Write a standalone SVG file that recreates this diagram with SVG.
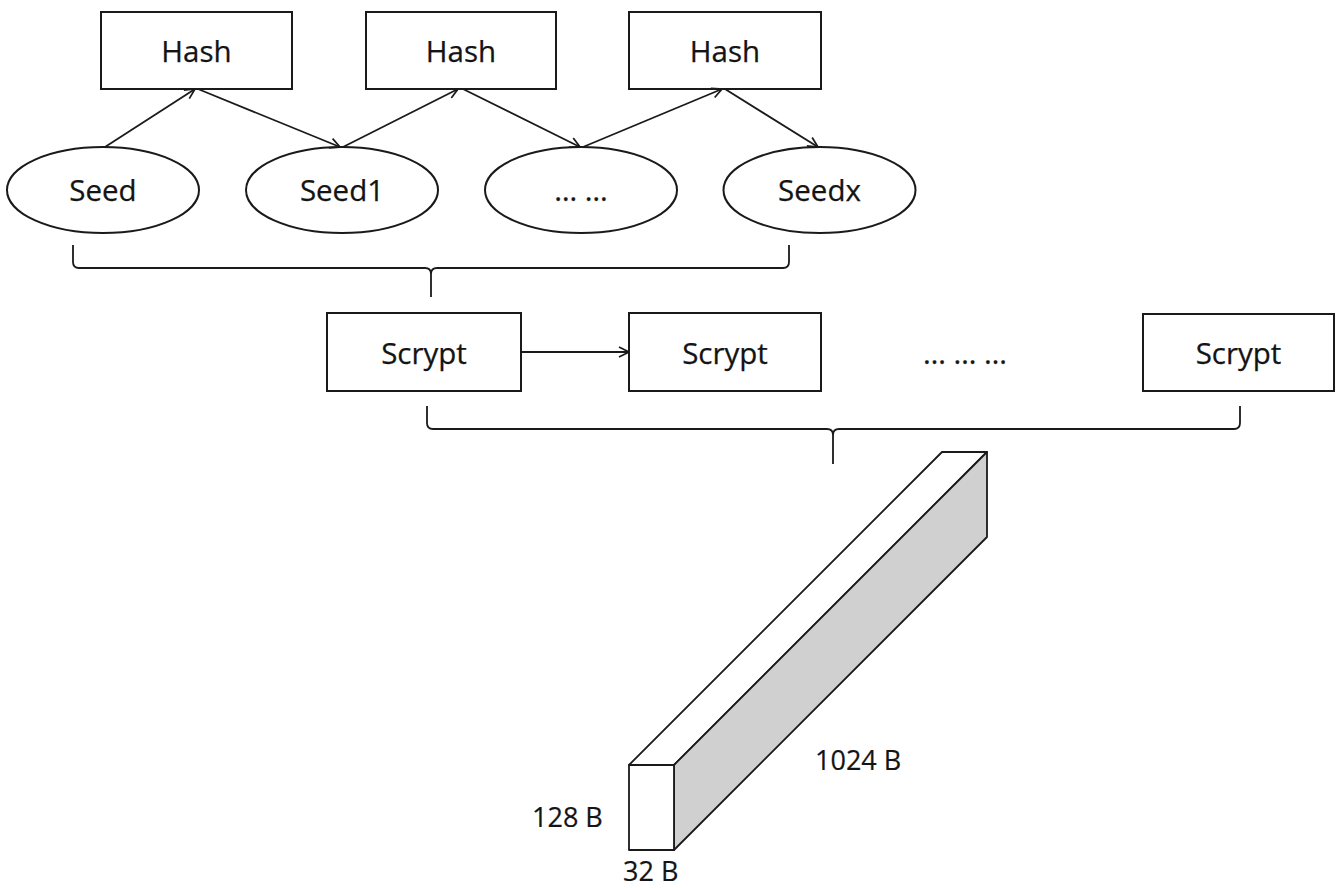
<svg xmlns="http://www.w3.org/2000/svg" width="1339" height="888" viewBox="0 0 1339 888">
  <defs>
    <marker id="open-arrow" viewBox="0 0 12 12" refX="11" refY="6" markerWidth="12" markerHeight="12" markerUnits="userSpaceOnUse" orient="auto">
      <path d="M1,1 L11,6 L1,11" fill="none" stroke="#1a1a1a" stroke-width="1.7"/>
    </marker>
    <style>
      .box { fill: #fff; stroke: #1a1a1a; stroke-width: 2; }
      .lbl { font-family: "Open Sans", "Liberation Sans", sans-serif; font-size: 29.5px; fill: #141414; text-anchor: middle; stroke: #141414; stroke-width: 0.25; }
      .dim { font-family: "Open Sans", "Liberation Sans", sans-serif; font-size: 27px; fill: #141414; stroke: #141414; stroke-width: 0.2; }
      .edge { fill: none; stroke: #1a1a1a; stroke-width: 1.8; marker-end: url(#open-arrow); }
      .brace { fill: none; stroke: #1a1a1a; stroke-width: 1.8; }
    </style>
  </defs>
  <rect width="1339" height="888" fill="#fff"/>

  <!-- hash stages -->
  <g id="hash1"><rect class="box" x="101" y="12" width="191" height="77"/><text class="lbl" x="196.5" y="62">Hash</text></g>
  <g id="hash2"><rect class="box" x="366" y="12" width="190" height="77"/><text class="lbl" x="461" y="62">Hash</text></g>
  <g id="hash3"><rect class="box" x="629" y="12" width="192" height="77"/><text class="lbl" x="725" y="62">Hash</text></g>

  <!-- seed chain -->
  <g id="seed"><ellipse class="box" cx="103" cy="190" rx="96" ry="43"/><text class="lbl" x="103" y="201">Seed</text></g>
  <g id="seed1"><ellipse class="box" cx="342" cy="190" rx="96" ry="43"/><text class="lbl" x="342" y="201">Seed1</text></g>
  <g id="seed-more"><ellipse class="box" cx="581" cy="190" rx="96" ry="43"/><text class="lbl" x="581" y="201">… …</text></g>
  <g id="seedx"><ellipse class="box" cx="819.5" cy="190" rx="96" ry="43"/><text class="lbl" x="819.5" y="201">Seedx</text></g>

  <!-- scrypt stages -->
  <g id="scrypt1"><rect class="box" x="327" y="313" width="194" height="78"/><text class="lbl" x="424" y="364">Scrypt</text></g>
  <g id="scrypt2"><rect class="box" x="629" y="313" width="192" height="78"/><text class="lbl" x="725" y="364">Scrypt</text></g>
  <g id="scrypt-more"><text class="lbl" x="965" y="364">… … …</text></g>
  <g id="scrypt3"><rect class="box" x="1143" y="314" width="191" height="77"/><text class="lbl" x="1238.5" y="364">Scrypt</text></g>

  <!-- connectors -->
  <g id="connectors">
    <line class="edge" x1="105" y1="147" x2="195" y2="89"/>
    <line class="edge" x1="198" y1="89" x2="340" y2="147"/>
    <line class="edge" x1="343" y1="147" x2="458" y2="89"/>
    <line class="edge" x1="463" y1="89" x2="580" y2="147"/>
    <line class="edge" x1="583" y1="147" x2="722" y2="89"/>
    <line class="edge" x1="725" y1="89" x2="818" y2="147"/>
    <line class="edge" x1="521" y1="352" x2="629" y2="352"/>
    <!-- grouping braces -->
    <path class="brace" d="M73,245 L73,262 Q73,268 79,268 L425,268 Q431,268 431,274 L431,297 M431,274 Q431,268 437,268 L783,268 Q789,268 789,262 L789,245"/>
    <path class="brace" d="M427,406 L427,423 Q427,429 433,429 L827,429 Q833,429 833,435 L833,464 M833,435 Q833,429 839,429 L1234,429 Q1240,429 1240,423 L1240,406"/>
  </g>

  <!-- memory block -->
  <g id="memory-block" stroke="#1a1a1a" stroke-width="1.8" stroke-linejoin="round">
    <polygon points="629,765 942,452 987,452 674,765" fill="#fff"/>
    <polygon points="674,765 987,452 987,537 674,850" fill="#d0d0d0"/>
    <rect x="629" y="765" width="45" height="85" fill="#fff"/>
  </g>
  <g id="dimensions">
    <text class="dim" x="815" y="770">1024 B</text>
    <text class="dim" x="532" y="827">128 B</text>
    <text class="dim" x="623" y="881">32 B</text>
  </g>
</svg>
